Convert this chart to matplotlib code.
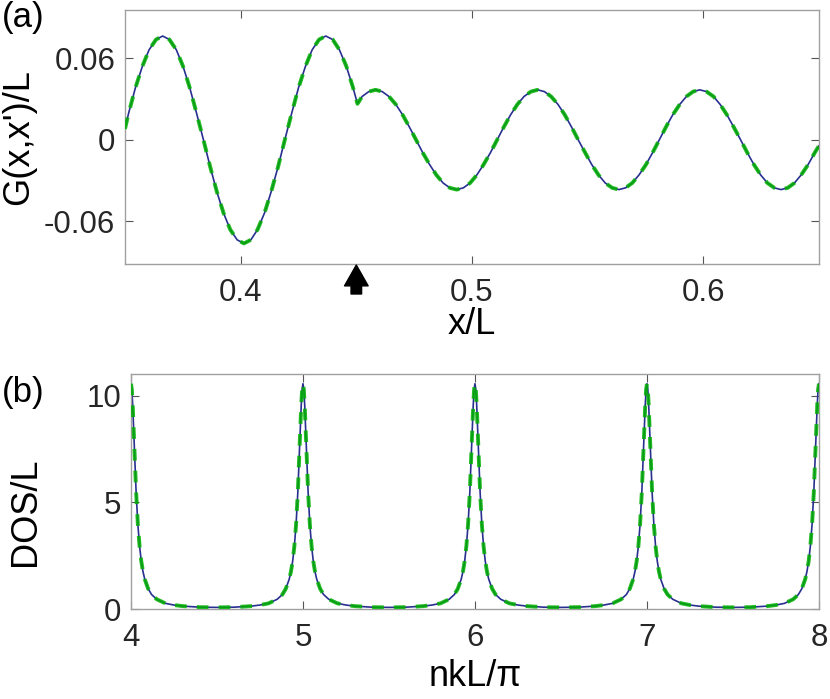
import matplotlib
matplotlib.use('Agg')
import matplotlib.pyplot as plt

plt.rcParams['font.family'] = ['Liberation Sans', 'DejaVu Sans']

# panel (a): G(x,x')/L along x/L (source point x'/L = 0.45)
x_a = [0.3500, 0.3516, 0.3545, 0.3575, 0.3604, 0.3634, 0.3663,
       0.3692, 0.3722, 0.3751, 0.3780, 0.3809, 0.3839, 0.3868, 0.3897, 0.3926, 0.3955, 0.3985, 0.4014,
       0.4044, 0.4073, 0.4103, 0.4132, 0.4162, 0.4191, 0.4221, 0.4250, 0.4280, 0.4309, 0.4339, 0.4368,
       0.4398, 0.4427, 0.4457, 0.4486, 0.4505,
       0.4525, 0.4554, 0.4583,
       0.4612, 0.4641, 0.4671, 0.4700, 0.4729, 0.4758, 0.4787, 0.4817, 0.4846, 0.4875, 0.4904, 0.4934,
       0.4963, 0.4992, 0.5021, 0.5050, 0.5080, 0.5109, 0.5138, 0.5167, 0.5196, 0.5225, 0.5255, 0.5284,
       0.5313, 0.5342, 0.5372, 0.5401, 0.5430, 0.5459, 0.5489, 0.5518, 0.5547, 0.5576, 0.5606, 0.5635,
       0.5664, 0.5693, 0.5722, 0.5752, 0.5781, 0.5810, 0.5839, 0.5868, 0.5898, 0.5927, 0.5956, 0.5985,
       0.6014, 0.6044, 0.6073, 0.6102, 0.6131, 0.6161, 0.6190, 0.6219, 0.6248, 0.6277, 0.6307, 0.6336,
       0.6365, 0.6394, 0.6423, 0.6453, 0.6482, 0.6500]
g_a = [0.0080, 0.0198, 0.0383, 0.0541, 0.0663, 0.0739, 0.0765,
       0.0739, 0.0663, 0.0541, 0.0383, 0.0198, 0.0, -0.0198, -0.0383, -0.0541, -0.0663, -0.0739, -0.0765,
       -0.0739, -0.0663, -0.0541, -0.0383, -0.0198, 0.0, 0.0198, 0.0383, 0.0541, 0.0663, 0.0739, 0.0765,
       0.0739, 0.0663, 0.0541, 0.0383, 0.0265,
       0.0319, 0.0355, 0.0368,
       0.0355, 0.0319, 0.0260, 0.0184, 0.0095, 0.0, -0.0095, -0.0184, -0.0260, -0.0319, -0.0355, -0.0368,
       -0.0355, -0.0319, -0.0260, -0.0184, -0.0095, 0.0, 0.0095, 0.0184, 0.0260, 0.0319, 0.0355, 0.0368,
       0.0355, 0.0319, 0.0260, 0.0184, 0.0095, 0.0, -0.0095, -0.0184, -0.0260, -0.0319, -0.0355, -0.0368,
       -0.0355, -0.0319, -0.0260, -0.0184, -0.0095, 0.0, 0.0095, 0.0184, 0.0260, 0.0319, 0.0355, 0.0368,
       0.0355, 0.0319, 0.0260, 0.0184, 0.0095, 0.0, -0.0095, -0.0184, -0.0260, -0.0319, -0.0355, -0.0368,
       -0.0355, -0.0319, -0.0260, -0.0184, -0.0095, -0.0045]

# panel (b): DOS/L against nkL/pi
x_b = [4.000, 4.005, 4.010, 4.015, 4.020, 4.030, 4.040, 4.050, 4.060, 4.070, 4.080, 4.100, 4.120, 4.150,
       4.200, 4.250, 4.300, 4.400, 4.500, 4.600, 4.700, 4.750, 4.800, 4.850, 4.880, 4.900, 4.920, 4.930,
       4.940, 4.950, 4.960, 4.970, 4.980, 4.985, 4.990, 4.995,
       5.000, 5.005, 5.010, 5.015, 5.020, 5.030, 5.040, 5.050, 5.060, 5.070, 5.080, 5.100, 5.120, 5.150,
       5.200, 5.250, 5.300, 5.400, 5.500, 5.600, 5.700, 5.750, 5.800, 5.850, 5.880, 5.900, 5.920, 5.930,
       5.940, 5.950, 5.960, 5.970, 5.980, 5.985, 5.990, 5.995,
       6.000, 6.005, 6.010, 6.015, 6.020, 6.030, 6.040, 6.050, 6.060, 6.070, 6.080, 6.100, 6.120, 6.150,
       6.200, 6.250, 6.300, 6.400, 6.500, 6.600, 6.700, 6.750, 6.800, 6.850, 6.880, 6.900, 6.920, 6.930,
       6.940, 6.950, 6.960, 6.970, 6.980, 6.985, 6.990, 6.995,
       7.000, 7.005, 7.010, 7.015, 7.020, 7.030, 7.040, 7.050, 7.060, 7.070, 7.080, 7.100, 7.120, 7.150,
       7.200, 7.250, 7.300, 7.400, 7.500, 7.600, 7.700, 7.750, 7.800, 7.850, 7.880, 7.900, 7.920, 7.930,
       7.940, 7.950, 7.960, 7.970, 7.980, 7.985, 7.990, 7.995, 8.000]
dos_b = [10.56, 10.29, 9.57, 8.56, 7.47, 5.47, 3.98, 2.96, 2.25, 1.76, 1.41, 0.96, 0.69, 0.47,
         0.28, 0.20, 0.15, 0.10, 0.09, 0.10, 0.15, 0.20, 0.28, 0.47, 0.69, 0.96, 1.41, 1.76,
         2.25, 2.96, 3.98, 5.47, 7.47, 8.56, 9.57, 10.29,
         10.56, 10.29, 9.57, 8.56, 7.47, 5.47, 3.98, 2.96, 2.25, 1.76, 1.41, 0.96, 0.69, 0.47,
         0.28, 0.20, 0.15, 0.10, 0.09, 0.10, 0.15, 0.20, 0.28, 0.47, 0.69, 0.96, 1.41, 1.76,
         2.25, 2.96, 3.98, 5.47, 7.47, 8.56, 9.57, 10.29,
         10.56, 10.29, 9.57, 8.56, 7.47, 5.47, 3.98, 2.96, 2.25, 1.76, 1.41, 0.96, 0.69, 0.47,
         0.28, 0.20, 0.15, 0.10, 0.09, 0.10, 0.15, 0.20, 0.28, 0.47, 0.69, 0.96, 1.41, 1.76,
         2.25, 2.96, 3.98, 5.47, 7.47, 8.56, 9.57, 10.29,
         10.56, 10.29, 9.57, 8.56, 7.47, 5.47, 3.98, 2.96, 2.25, 1.76, 1.41, 0.96, 0.69, 0.47,
         0.28, 0.20, 0.15, 0.10, 0.09, 0.10, 0.15, 0.20, 0.28, 0.47, 0.69, 0.96, 1.41, 1.76,
         2.25, 2.96, 3.98, 5.47, 7.47, 8.56, 9.57, 10.29, 10.56]

xticks_a = [0.4, 0.5, 0.6]
yticks_a = [-0.06, 0, 0.06]
ytick_labels_a = ['-0.06', '0', '0.06']
xticks_b = [4, 5, 6, 7, 8]
yticks_b = [0, 5, 10]

blue = '#28308f'
green = '#00b000'
box = '#a0a0a0'
txt = '#262626'

fig = plt.figure(figsize=(8.3, 6.99), dpi=100)
ax1 = fig.add_axes([0.1506, 0.6223, 0.8361, 0.3634])
ax2 = fig.add_axes([0.1578, 0.1283, 0.8289, 0.3362])

for ax in (ax1, ax2):
    for s in ax.spines.values():
        s.set_color(box)
        s.set_linewidth(1.0)
    ax.tick_params(direction='in', length=6, width=0.8, color='#555555',
                   top=True, right=True, labelsize=22.5, labelcolor=txt)
    ax.tick_params(axis='y', pad=7)

ax1.plot(x_a, g_a, color=blue, lw=1.2, zorder=2)
ax1.plot(x_a, g_a, color=green, lw=2.8, ls=(0, (3.0, 2.6)), alpha=0.85, zorder=3)
ax1.set_xlim(0.35, 0.65)
ax1.set_ylim(-0.0917, 0.0957)
ax1.set_xticks(xticks_a)
ax1.set_xticklabels([str(v) for v in xticks_a])
ax1.set_yticks(yticks_a)
ax1.set_yticklabels(ytick_labels_a)
ax1.tick_params(axis='x', pad=10)
ax1.set_xlabel('x/L', fontsize=26, color='black')
ax1.set_ylabel("G(x,x')/L", fontsize=26, color='black')
ax1.xaxis.set_label_coords(0.5, -0.168)
ax1.yaxis.set_label_coords(-0.128, 0.5)

# arrow marking the source position x' under the axis
ax1.annotate('', xy=(0.45, -0.004), xytext=(0.45, -0.118),
             xycoords=('data', 'axes fraction'), textcoords=('data', 'axes fraction'),
             arrowprops=dict(arrowstyle='simple,head_length=0.75,head_width=0.85,tail_width=0.38',
                             color='black', mutation_scale=20, shrinkA=0, shrinkB=0))

ax2.plot(x_b, dos_b, color=blue, lw=1.2, zorder=2)
ax2.plot(x_b, dos_b, color=green, lw=2.8, ls=(0, (3.0, 2.6)), alpha=0.85, zorder=3)
ax2.set_xlim(4, 8)
ax2.set_ylim(0, 11)
ax2.set_xticks(xticks_b)
ax2.set_yticks(yticks_b)
ax2.tick_params(axis='x', pad=10)
ax2.set_xlabel('nkL/\u03c0', fontsize=26, color='black')
ax2.set_ylabel('DOS/L', fontsize=26, color='black')
ax2.xaxis.set_label_coords(0.5, -0.212)
ax2.yaxis.set_label_coords(-0.128, 0.414)

fig.text(0.002, 0.975, '(a)', fontsize=25, va='center', ha='left')
fig.text(0.002, 0.438, '(b)', fontsize=25, va='center', ha='left')

fig.savefig('out.png', dpi=100)
